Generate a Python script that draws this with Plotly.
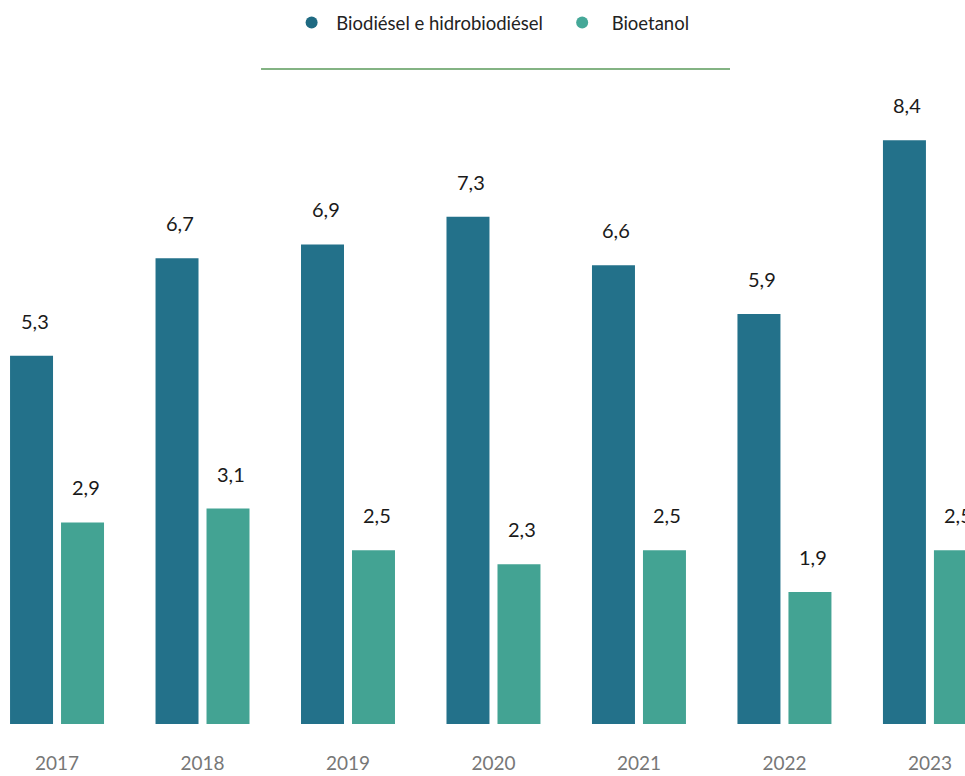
import plotly.graph_objects as go

years = ["2017", "2018", "2019", "2020", "2021", "2022", "2023"]
biodiesel = [5.3, 6.7, 6.9, 7.3, 6.6, 5.9, 8.4]
bioetanol = [2.9, 3.1, 2.5, 2.3, 2.5, 1.9, 2.5]

name_bio = "Biodiésel e hidrobiodiésel"
name_eta = "Bioetanol"
blue = "#23718a"
green = "#43a393"
font_family = "Lato, 'Open Sans', sans-serif"


def fmt(v):
    return f"{v:.1f}".replace(".", ",")


fig = go.Figure()
fig.add_trace(go.Bar(
    x=years, y=biodiesel, name=name_bio, showlegend=False,
    marker=dict(color=blue, line=dict(width=0)),
))
fig.add_trace(go.Bar(
    x=years, y=bioetanol, name=name_eta, showlegend=False,
    marker=dict(color=green, line=dict(width=0)),
))
# legend entries with round markers
for nm, col in [(" " + name_bio + "   ", "#1f6a82"), ("  " + name_eta, "#45a898")]:
    fig.add_trace(go.Scatter(
        x=[None], y=[None], mode="markers", name=nm,
        marker=dict(symbol="circle", size=17, color=col),
    ))

# value labels above each bar (grouped bars sit half a slot left/right of the category)
annotations = []
for series, dx in [(biodiesel, -25.5), (bioetanol, 25.5)]:
    for i, v in enumerate(series):
        annotations.append(dict(
            x=i, y=v, xref="x", yref="y", text=fmt(v), showarrow=False,
            xanchor="center", yanchor="bottom", xshift=dx + 3, yshift=21,
            font=dict(size=20, color="#1a1a1a", family=font_family),
        ))

fig.update_layout(
    width=965, height=776,
    margin=dict(l=0, r=0, t=80, b=52, autoexpand=False),
    paper_bgcolor="white", plot_bgcolor="white",
    barmode="group", bargap=0.299, bargroupgap=0.157,
    font=dict(family=font_family, size=16, color="#222"),
    legend=dict(
        orientation="h", x=0.511, xanchor="center", y=1.0885, yanchor="middle",
        font=dict(size=18.5, color="#222"), itemsizing="constant",
    ),
    xaxis=dict(
        type="category", range=[-0.392, 6.241], showgrid=False, zeroline=False,
        showline=False, ticks="outside", ticklen=22, tickcolor="rgba(0,0,0,0)",
        tickfont=dict(size=19, color="#777"), automargin=False,
    ),
    yaxis=dict(range=[0, 9.266], visible=False, automargin=False),
    annotations=annotations,
    shapes=[dict(
        type="line", xref="paper", yref="paper",
        x0=0.2705, x1=0.7565, y0=1.017, y1=1.017,
        line=dict(color="#5a9a5a", width=1.5),
    )],
)

fig.write_html("out.html")
